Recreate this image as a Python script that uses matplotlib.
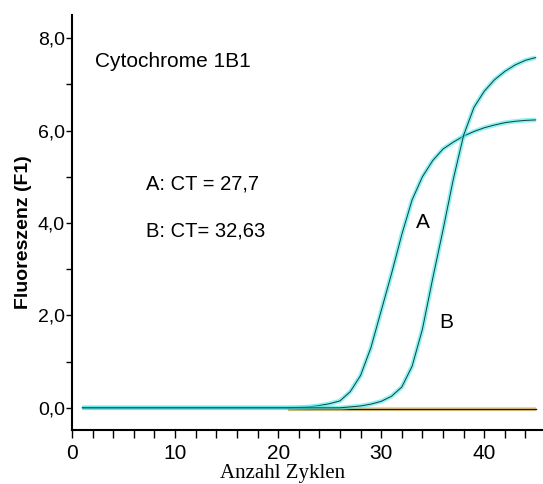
import matplotlib
matplotlib.use("Agg")
import matplotlib.pyplot as plt
import numpy as np

# cycles 1..45
cycles = np.arange(1, 46)

# curve A (CT = 27,7)
curve_a = [0.0] * 21 + [0.01, 0.02, 0.05, 0.09, 0.15, 0.35, 0.7, 1.3, 2.1, 2.9,
                        3.75, 4.5, 5.0, 5.35, 5.6, 5.75, 5.88, 5.98, 6.06, 6.12,
                        6.17, 6.2, 6.22, 6.23]
# curve B (CT = 32,63)
curve_b = [0.0] * 26 + [0.02, 0.04, 0.08, 0.14, 0.25, 0.45, 0.9, 1.7, 2.8, 3.85,
                        4.95, 5.9, 6.5, 6.85, 7.1, 7.28, 7.42, 7.52, 7.58]
# negative control, flat
neg_cycles = np.arange(21, 46)
neg_values = [-0.03] * len(neg_cycles)

ytick_vals = [0, 2, 4, 6, 8]
ytick_labels = ["0,0", "2,0", "4,0", "6,0", "8,0"]
xtick_vals = [0, 10, 20, 30, 40]
xtick_labels = ["0", "10", "20", "30", "40"]

plt.rcParams['font.family'] = ['Liberation Sans', 'DejaVu Sans']

fig = plt.figure(figsize=(5.43, 4.84), dpi=100)
ax = fig.add_axes([72 / 543, 54 / 484, 471 / 543, 415 / 484])

# glow + thin dark line, like the instrument export
ax.plot(neg_cycles, neg_values, color='#f4cf78', lw=3.0, alpha=0.85, solid_capstyle='butt')
ax.plot(neg_cycles, neg_values, color='#1a1a1a', lw=1.0)
for yv in (curve_a, curve_b):
    ax.plot(cycles, yv, color='#3fe8e8', lw=3.2, alpha=0.6, solid_capstyle='butt')
    ax.plot(cycles, yv, color='#123e3e', lw=0.7)

ax.set_xlim(0, 45.7)
ax.set_ylim(-0.48, 8.5)

ax.set_xticks(xtick_vals)
ax.set_xticklabels(xtick_labels, fontsize=15)
ax.set_xticks(np.arange(0, 46, 2), minor=True)
ax.set_yticks(ytick_vals)
ax.set_yticklabels(ytick_labels, fontsize=14)
ax.set_yticks([1, 3, 5, 7], minor=True)

ax.tick_params(axis='x', which='both', direction='out', length=6, width=1, pad=4)
ax.tick_params(axis='y', which='both', direction='out', length=4, width=1, pad=1)

for s in ('top', 'right'):
    ax.spines[s].set_visible(False)
for s in ('left', 'bottom'):
    ax.spines[s].set_linewidth(1.5)

ax.set_ylabel("Fluoreszenz (F1)", fontsize=14, fontweight='bold')
ax.yaxis.set_label_coords(-(72 - 32) / 471, (430 - 232) / 415)
ax.set_xlabel("Anzahl Zyklen", fontsize=15, family='Liberation Serif')
ax.xaxis.set_label_coords((283 - 72) / 471, -(464 - 430) / 415)

ax.text(2.2, 7.5, "Cytochrome 1B1", fontsize=15, va='center', ha='left')
ax.text(7.2, 4.85, "A: CT = 27,7", fontsize=14.5, va='center', ha='left')
ax.text(7.2, 3.82, "B: CT= 32,63", fontsize=14.5, va='center', ha='left')
ax.text(34.0, 4.0, "A", fontsize=15, va='center', ha='center')
ax.text(36.3, 1.85, "B", fontsize=15, va='center', ha='center')

fig.savefig("out.png", dpi=100)
